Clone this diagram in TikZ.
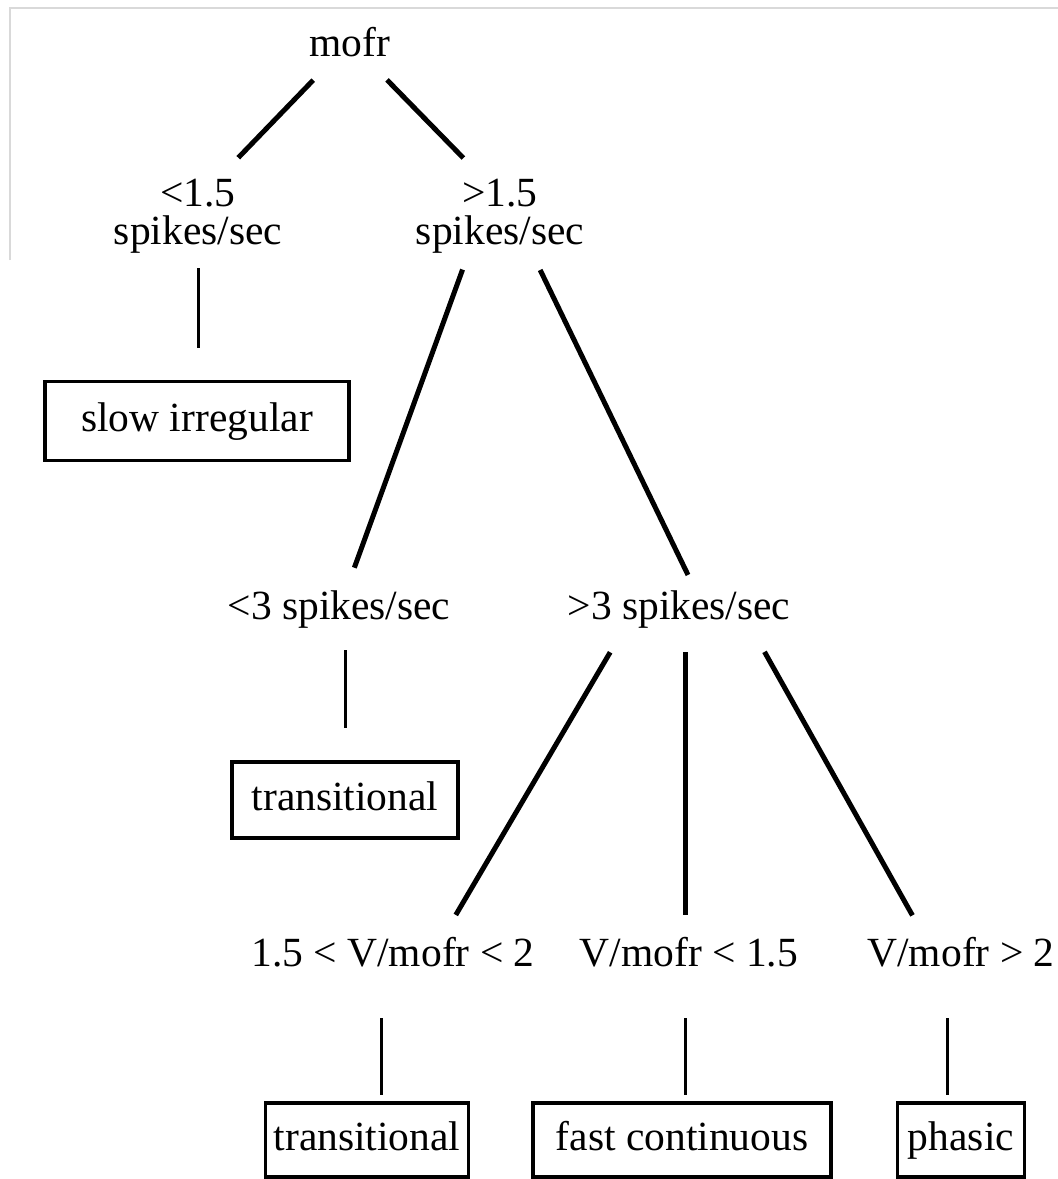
\documentclass[tikz,border=0pt]{standalone}
\usepackage{fontspec}
\setmainfont{Liberation Serif}
\usepackage{tikz}

\begin{document}
\begin{tikzpicture}[x=1pt, y=-1pt,
	every node/.style={font=\fontsize{41.5}{38}\selectfont, inner sep=0pt, align=center},
	leaf/.style={draw, line width=3.5pt, text height=29pt, text depth=9pt},
	branch/.style={line width=5pt},
	stem/.style={line width=3pt}]
	\useasboundingbox (0,0) rectangle (1058,1179);
	% scan edge
	\draw[black!15, line width=2pt] (10,260) -- (10,8) -- (1058,8);
	% labels
	\node (mofr) at (350,42) {mofr};
	\node (lt15) at (198,216) {<1.5\\spikes/sec};
	\node (gt15) at (500,216) {>1.5\\spikes/sec};
	\node (lt3) at (339,610) {<3 spikes/sec};
	\node (gt3) at (679,610) {>3 spikes/sec};
	\node (ratioA) at (393,952) {1.5 < V/mofr < 2};
	\node (ratioB) at (689,952) {V/mofr < 1.5};
	\node (ratioC) at (961,952) {V/mofr > 2};
	% classes
	\node[leaf, minimum width=304pt, minimum height=79pt] (slow) at (197,421) {slow irregular};
	\node[leaf, minimum width=226pt, minimum height=76pt] (trans1) at (345,800) {transitional};
	\node[leaf, minimum width=203pt, minimum height=74pt] (trans2) at (367,1140) {transitional};
	\node[leaf, minimum width=298pt, minimum height=74pt] (fast) at (682,1140) {fast continuous};
	\node[leaf, minimum width=127pt, minimum height=74pt] (phasic) at (961,1140) {phasic};
	% branches
	\draw[branch, shorten <=53pt, shorten >=81pt] (mofr.center) -- ([xshift=-16pt]lt15.center);
	\draw[branch, shorten <=53pt, shorten >=81pt] (mofr.center) -- ([xshift=20pt]gt15.center);
	\draw[branch, shorten <=57pt, shorten >=45pt] ([xshift=-18pt]gt15.center) -- (lt3.center);
	\draw[branch, shorten <=60pt, shorten >=39pt] ([xshift=14pt]gt15.center) -- ([xshift=26pt]gt3.center);
	\draw[branch, shorten <=49pt, shorten >=43pt] ([xshift=-44pt]gt3.center) -- ([xshift=41pt]ratioA.center);
	\draw[branch, shorten <=42pt, shorten >=37pt] ([xshift=6pt]gt3.center) -- ([xshift=-4pt]ratioB.center);
	\draw[branch, shorten <=48pt, shorten >=42pt] ([xshift=62pt]gt3.center) -- ([xshift=-28pt]ratioC.center);
	% stems down to the boxes
	\draw[stem, shorten <=52pt, shorten >=73pt] (lt15.center) -- (lt15 |- slow);
	\draw[stem, shorten <=40pt, shorten >=72pt] (trans1 |- lt3) -- (trans1.center);
	\draw[stem, shorten <=66pt, shorten >=45pt] ([xshift=-12pt]ratioA.center) -- ([xshift=-12pt]ratioA.center |- trans2.center);
	\draw[stem, shorten <=66pt, shorten >=45pt] ([xshift=-4pt]ratioB.center) -- ([xshift=-4pt]ratioB.center |- fast.center);
	\draw[stem, shorten <=66pt, shorten >=45pt] ([xshift=-14pt]ratioC.center) -- ([xshift=-14pt]ratioC.center |- phasic.center);
\end{tikzpicture}
\end{document}
